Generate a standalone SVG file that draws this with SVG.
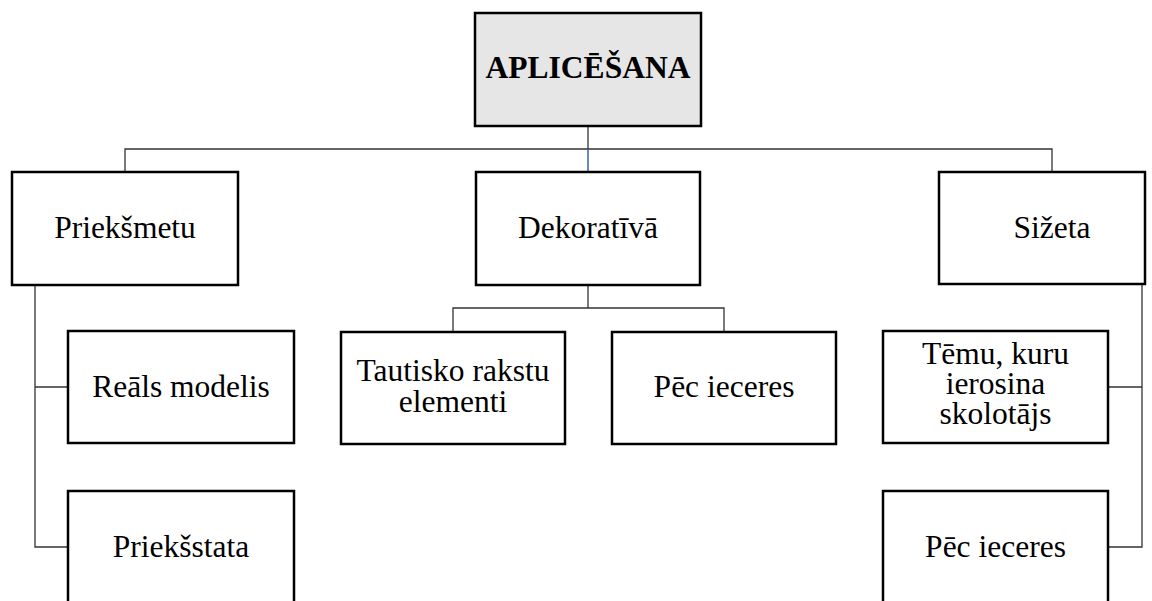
<svg xmlns="http://www.w3.org/2000/svg" width="1152" height="601" viewBox="0 0 1152 601">
<style>
.box{fill:#fff;stroke:#000;stroke-width:2.5}
.root{fill:#e6e6e6;stroke:#000;stroke-width:2.5}
.t{font-size:31.5px;fill:#000;text-anchor:middle}
.b{font-weight:bold}
.c{fill:none;stroke:#333;stroke-width:1.3}
</style>
<rect width="1152" height="601" fill="#fff"/>
<g id="connectors">
<path class="c" d="M588 126V149"/>
<path class="c" d="M125 172V149H1052V172"/>
<path d="M588 149V172" fill="none" stroke="#3a5fa8" stroke-width="1.5"/>
<path class="c" d="M588 285V308M453 332V308H724V332"/>
<path class="c" d="M35 285V547H68M35 387H68"/>
<path class="c" d="M1142 284V547H1108M1142 387H1108"/>
</g>
<g font-family="'Liberation Serif','Times New Roman','DejaVu Serif',serif">
<g id="n-root"><rect class="root" x="475" y="13" width="226" height="113"/><text class="t b" x="588" y="78">APLICĒŠANA</text></g>
<g id="n-priekšmetu"><rect class="box" x="12" y="172" width="226" height="113"/><text class="t" x="125" y="238">Priekšmetu</text></g>
<g id="n-dekorativa"><rect class="box" x="476" y="172" width="224" height="113"/><text class="t" x="588" y="238">Dekoratīvā</text></g>
<g id="n-sizeta"><rect class="box" x="939" y="172" width="206" height="112"/><text class="t" x="1052" y="238">Sižeta</text></g>
<g id="n-reals"><rect class="box" x="68" y="331" width="226" height="112"/><text class="t" x="181" y="397">Reāls modelis</text></g>
<g id="n-priekšstata"><rect class="box" x="68" y="491" width="226" height="130"/><text class="t" x="181" y="557">Priekšstata</text></g>
<g id="n-tautisko"><rect class="box" x="341" y="332" width="224" height="112"/><text class="t" x="453" y="381">Tautisko rakstu</text><text class="t" x="453" y="412">elementi</text></g>
<g id="n-pec1"><rect class="box" x="612" y="332" width="224" height="112"/><text class="t" x="724" y="397">Pēc ieceres</text></g>
<g id="n-temu"><rect class="box" x="883" y="331" width="225" height="112"/><text class="t" x="995.5" y="364">Tēmu, kuru</text><text class="t" x="995.5" y="394">ierosina</text><text class="t" x="995.5" y="424">skolotājs</text></g>
<g id="n-pec2"><rect class="box" x="883" y="491" width="225" height="130"/><text class="t" x="995.5" y="557">Pēc ieceres</text></g>
</g>
</svg>
